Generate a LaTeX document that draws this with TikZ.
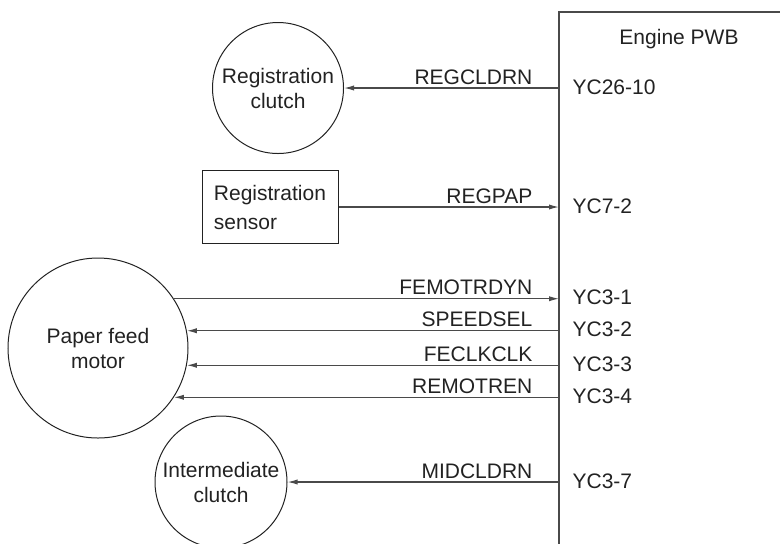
\documentclass[tikz,border=0pt]{standalone}
\usepackage{fontspec}
\setmainfont{Liberation Sans}
\usetikzlibrary{arrows.meta}
\definecolor{inkgray}{HTML}{222222}
\definecolor{wiregray}{HTML}{4A4A4A}

\begin{document}
\begin{tikzpicture}[x=0.5pt, y=-0.5pt, >={Latex[length=5pt,width=2.6pt]}]

% Stili
\tikzstyle{part} = [circle, draw=inkgray, line width=0.5pt, inner sep=0pt,
    align=center, text=inkgray, font=\fontsize{10.5}{12.5}\selectfont]
\tikzstyle{sensorbox} = [rectangle, draw=inkgray, line width=0.5pt,
    minimum width=68pt, minimum height=36.5pt, align=left, text=inkgray,
    font=\fontsize{10.5}{14.5}\selectfont]
\tikzstyle{wire} = [draw=wiregray, line width=0.6pt]
\tikzstyle{signame} = [anchor=base east, inner sep=0pt, xshift=-13pt, yshift=2pt,
    text=inkgray, font=\fontsize{10.5}{12.5}\selectfont]
\tikzstyle{pinlbl} = [anchor=west, inner sep=0pt, xshift=6.5pt, yshift=0.5pt,
    text=inkgray, font=\fontsize{10.5}{12.5}\selectfont]

\clip (0,0) rectangle (780,543);

% Componenti
\node (pwb) [rectangle, draw=wiregray, line width=0.8pt, outer sep=0pt,
    anchor=north west, minimum width=140pt, minimum height=290pt] at (559,12) {};
\node (pwbname) [text=inkgray, font=\fontsize{10.5}{12.5}\selectfont] at (679,39) {Engine PWB};
\node (regclutch) [part, minimum size=65.5pt] at (278,88) {Registration\\clutch};
\node (regsensor) [sensorbox] at (270,207) {Registration\\sensor};
\node (feedmotor) [part, minimum size=90pt] at (98,348) {Paper feed\\motor};
\node (midclutch) [part, minimum size=66pt] at (221,482) {Intermediate\\clutch};

% Segnali
\draw [wire,<-] (regclutch) -- (regclutch -| pwb.west)
    node [signame] {REGCLDRN} node [pinlbl] {YC26-10};
\draw [wire,->] (regsensor) -- (regsensor -| pwb.west)
    node [signame] {REGPAP} node [pinlbl] {YC7-2};
\draw [wire,->] (feedmotor.33.5) -- (feedmotor.33.5 -| pwb.west)
    node [signame] {FEMOTRDYN} node [pinlbl] {YC3-1};
\draw [wire,<-] (feedmotor.11) -- (feedmotor.11 -| pwb.west)
    node [signame] {SPEEDSEL} node [pinlbl] {YC3-2};
\draw [wire,<-] (feedmotor.-11) -- (feedmotor.-11 -| pwb.west)
    node [signame] {FECLKCLK} node [pinlbl] {YC3-3};
\draw [wire,<-] (feedmotor.-33.5) -- (feedmotor.-33.5 -| pwb.west)
    node [signame] {REMOTREN} node [pinlbl] {YC3-4};
\draw [wire,<-] (midclutch) -- (midclutch -| pwb.west)
    node [signame] {MIDCLDRN} node [pinlbl] {YC3-7};

\end{tikzpicture}
\end{document}
